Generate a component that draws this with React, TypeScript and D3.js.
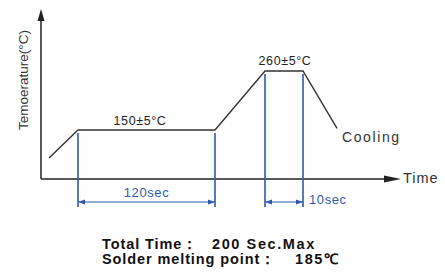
import React from "react";
import * as d3 from "d3";

// reflow profile, schematic units (time in arbitrary "ticks", temperature in °C)
const profileTime = [8, 37, 174, 224, 262, 296];
const profileTemp = [98, 150, 150, 260, 260, 153];

// dimension spans
const preheatSpan = [37, 174];
const peakSpan = [224, 262];

const soakLabel = "150±5°C";
const peakLabel = "260±5°C";
const preheatLabel = "120sec";
const peakTimeLabel = "10sec";
const footerLabels = ["Total Time：", "Solder melting point："];
const footerValues = ["200 Sec.Max", "185℃"];

const W = 445;
const H = 273;
const BLUE = "#2f58b0";

export default function App() {
  const x = d3.scaleLinear().domain([0, 360]).range([41, 401]);
  const y = d3.scaleLinear().domain([150, 260]).range([130, 71]);
  const axisY = 179;

  const pts = profileTime.map((t, i) => [x(t), y(profileTemp[i])] as [number, number]);
  const line = d3.line();

  const dim = (span: number[], topTemp: number, key: string) => {
    const x0 = x(span[0]);
    const x1 = x(span[1]);
    const yTop = y(topTemp) + 3;
    const yArrow = 202;
    return (
      <g key={key} stroke={BLUE} fill={BLUE}>
        <line x1={x0} x2={x0} y1={yTop} y2={207} strokeWidth={1.6} />
        <line x1={x1} x2={x1} y1={yTop} y2={207} strokeWidth={1.6} />
        <line x1={x0} x2={x1} y1={yArrow} y2={yArrow} strokeWidth={1.2} />
        <path d={`M${x0},${yArrow} l7,-2.5 l0,5 z`} stroke="none" />
        <path d={`M${x1},${yArrow} l-7,-2.5 l0,5 z`} stroke="none" />
      </g>
    );
  };

  const footerValueX = [212, 295];

  return (
    <svg width={W} height={H} style={{ position: "absolute", left: 0, top: 0, background: "#fff" }}>
      <g fontFamily="Liberation Sans, Arial, sans-serif">
        {/* axes */}
        <line x1={41} x2={41} y1={18} y2={axisY} stroke="#222" strokeWidth={1.5} />
        <path d="M41,9 l-3.5,12 l7,0 z" fill="#222" />
        <line x1={41} x2={390} y1={axisY} y2={axisY} stroke="#222" strokeWidth={1.5} />
        <path d="M401,179 l-17,-3.5 l0,7 z" fill="#222" />
        <text x={403} y={183} fontSize={14.5} letterSpacing={1} fill="#333">Time</text>
        <text
          transform={`translate(28,80) rotate(-90)`}
          textAnchor="middle"
          fontSize={13.5}
          fill="#333"
        >
          Temoerature(°C)
        </text>

        {/* dimension markers */}
        {dim(preheatSpan, 150, "pre")}
        {dim(peakSpan, 260, "peak")}
        <text x={(x(preheatSpan[0]) + x(preheatSpan[1])) / 2} y={197} textAnchor="middle" fontSize={13} letterSpacing={0.6} fill={BLUE}>
          {preheatLabel}
        </text>
        <text x={x(peakSpan[1]) + 6} y={204} fontSize={13} letterSpacing={0.6} fill={BLUE}>
          {peakTimeLabel}
        </text>

        {/* profile */}
        <path d={line(pts) || ""} fill="none" stroke="#333" strokeWidth={1.4} />
        <text x={x(99)} y={y(150) - 5} textAnchor="middle" fontSize={12.5} letterSpacing={0.6} fill="#222">
          {soakLabel}
        </text>
        <text x={x(244)} y={y(260) - 6} textAnchor="middle" fontSize={12.5} letterSpacing={0.6} fill="#222">
          {peakLabel}
        </text>
        <text x={342} y={142} fontSize={14} fill="#333" letterSpacing={1.6}>Cooling</text>

        {/* footer */}
        {footerLabels.map((t, i) => (
          <g key={i} fontSize={14.5} fontWeight="bold" fill="#111">
            <text x={102} y={249 + i * 14.5} letterSpacing={0.9}>{t}</text>
            <text x={footerValueX[i]} y={249 + i * 14.5} letterSpacing={1.6}>{footerValues[i]}</text>
          </g>
        ))}
      </g>
    </svg>
  );
}
